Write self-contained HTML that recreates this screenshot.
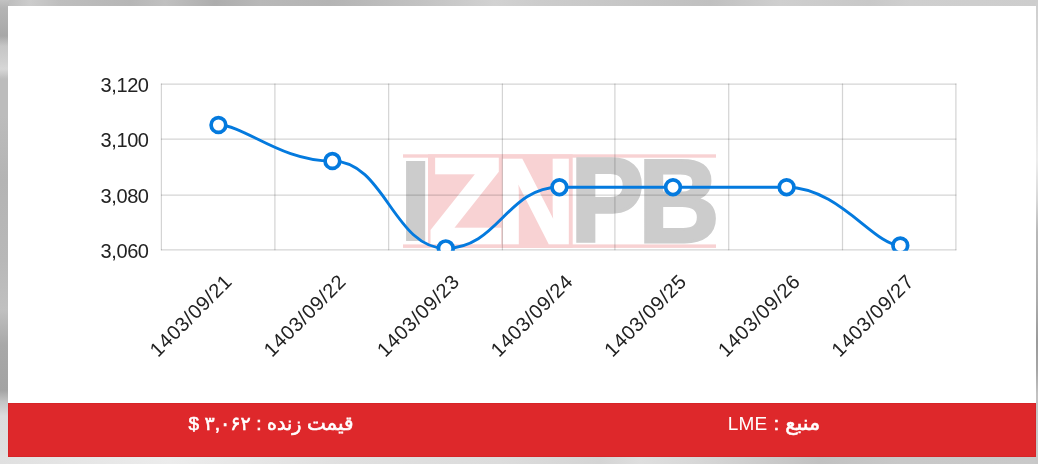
<!DOCTYPE html>
<html lang="fa">
<head>
<meta charset="utf-8">
<title>LME</title>
<style>
html,body{margin:0;padding:0}
body{width:1038px;height:464px;overflow:hidden;position:relative;background:#c4c4c4;font-family:"Liberation Sans","DejaVu Sans",sans-serif}
.bg{position:absolute;left:0;top:0;width:1038px;height:464px;
 background:linear-gradient(90deg,#b8b8b8 0,#cccccc 30px,#bebebe 60px,#b6b6b6 130px,#c0c0c0 165px,#adadad 215px,#b8b8b8 260px,#b4b4b4 330px,#c2c2c2 420px,#d2d2d2 495px,#cccccc 540px,#c8c8c8 600px,#c0c0c0 710px,#cfcfcf 780px,#c8c8c8 870px,#cfcfcf 910px,#cdcdcd 1038px)}
.bgl{position:absolute;left:0;top:0;width:9px;height:464px;
 background:linear-gradient(180deg,#c2c2c2 0,#b4b4b4 8px,#adadad 26px,#a8a8a8 36px,#c6c6c6 46px,#cdcdcd 58px,#d7d7d7 69px,#bcbcbc 79px,#bcbcbc 116px,#b4b4b4 180px,#b8b8b8 260px,#c0c0c0 310px,#a8a8a8 345px,#a3a3a3 390px,#c4c4c4 402px,#dcdcdc 416px,#e0e0e0 464px)}
.bgb{position:absolute;left:0;top:455px;width:1038px;height:9px;
 background:linear-gradient(90deg,#e0e0e0 0,#ececec 170px,#e0e0e0 346px,#dcdcdc 500px,#d4d4d4 600px,#dedede 640px,#d8d8d8 692px,#c1c1c1 820px,#c8c8c8 900px,#c9c9c9 1038px)}
.bgr{position:absolute;left:1035px;top:0;width:3px;height:464px;background:linear-gradient(180deg,#cdcdcd 0,#d6d6d6 40px,#e4e4e4 116px,#eeeeee 160px,#d8d8d8 200px,#b8b8b8 232px,#acacac 300px,#9a9a9a 342px,#a6a6a6 370px,#c2c2c2 394px,#c6c6c6 420px,#c8c8c8 464px)}
.card{position:absolute;left:8px;top:6px;width:1028px;height:451px;background:#fff}
.bar{position:absolute;left:8px;top:403px;width:1028px;height:53.5px;background:#de282b;box-shadow:inset 0 0 0 1px #d62427}
.t{will-change:transform;position:absolute;color:#fff;font-size:19px;line-height:24px;white-space:nowrap;direction:rtl;text-align:center;-webkit-text-stroke:0.6px #fff;font-family:"Liberation Sans","DejaVu Sans",sans-serif}
#t1{left:120.6px;width:300px;top:410.7px;word-spacing:0.3px}
.a1{font-size:19.9px}
.a2{font-size:20.9px}
.l{-webkit-text-stroke:0;letter-spacing:0.2px}
#t2{left:624px;width:300px;top:410.7px;word-spacing:1px}
svg{position:absolute;left:0;top:0;will-change:transform}
svg text{font-family:"Liberation Sans","DejaVu Sans",sans-serif}
</style>
</head>
<body>
<div class="bg"></div><div class="bgl"></div><div class="bgb"></div><div class="bgr"></div>
<div class="card"></div>
<svg width="1038" height="464" viewBox="0 0 1038 464">
<defs><clipPath id="cp"><rect x="160.4" y="75.0" width="796.5" height="175.8"/></clipPath></defs>
<g id="logo" font-family="Liberation Sans">
<rect x="403" y="154.3" width="313" height="3.4" fill="#f8d2d3"/>
<rect x="403" y="244.4" width="313" height="3.5" fill="#f8d2d3"/>
<rect x="428" y="154.3" width="144.7" height="93.6" fill="#f8d2d3"/>
<text transform="translate(399.23,239.60) scale(1.0486,1)" font-size="112.46" font-weight="bold" fill="#cccccc" stroke="#cccccc" stroke-width="2.0" stroke-linejoin="miter">I</text>
<text transform="translate(428.31,242.90) scale(1.0111,1)" font-size="121.74" font-weight="bold" fill="#ffffff" stroke="#ffffff" stroke-width="2.6" stroke-linejoin="miter">Z</text>
<text transform="translate(496.43,243.00) scale(0.8992,1)" font-size="121.01" font-weight="bold" fill="#ffffff" stroke="#ffffff" stroke-width="2.4" stroke-linejoin="miter">N</text>
<text transform="translate(570.54,241.30) scale(0.9282,1)" font-size="118.70" font-weight="bold" fill="#cccccc" stroke="#cccccc" stroke-width="3.4" stroke-linejoin="miter">P</text>
<text transform="translate(638.05,241.60) scale(0.9461,1)" font-size="119.57" font-weight="bold" fill="#cccccc" stroke="#cccccc" stroke-width="2.8" stroke-linejoin="miter">B</text>
</g>
<g stroke="#000" stroke-opacity="0.17" stroke-width="1.25"><line x1="161.40" y1="83.50" x2="161.40" y2="250.30"/><line x1="274.90" y1="83.50" x2="274.90" y2="250.30"/><line x1="388.65" y1="83.50" x2="388.65" y2="250.30"/><line x1="502.40" y1="83.50" x2="502.40" y2="250.30"/><line x1="614.90" y1="83.50" x2="614.90" y2="250.30"/><line x1="728.70" y1="83.50" x2="728.70" y2="250.30"/><line x1="842.50" y1="83.50" x2="842.50" y2="250.30"/><line x1="955.90" y1="83.50" x2="955.90" y2="250.30"/><line x1="160.90" y1="84.00" x2="956.40" y2="84.00"/><line x1="160.90" y1="139.00" x2="956.40" y2="139.00"/><line x1="160.90" y1="195.00" x2="956.40" y2="195.00"/><line x1="160.90" y1="249.80" x2="956.40" y2="249.80"/></g>
<g clip-path="url(#cp)">
<path d="M218.45,125.00 C244.66,125.00 280.11,161.05 332.40,161.05 C384.69,161.05 393.59,248.35 445.80,248.35 C498.01,248.35 507.14,187.20 559.40,187.20 C611.66,187.20 620.74,187.20 673.00,187.20 C725.26,187.20 734.32,187.20 786.60,187.20 C838.88,187.20 874.15,245.50 900.30,245.50" fill="none" stroke="#047ade" stroke-width="2.95" stroke-linecap="round" stroke-linejoin="round"/>
<g fill="#fff" stroke="#047ade" stroke-width="3.7"><circle cx="218.45" cy="125.00" r="7.35"/><circle cx="332.40" cy="161.05" r="7.35"/><circle cx="445.80" cy="248.35" r="7.35"/><circle cx="559.40" cy="187.20" r="7.35"/><circle cx="673.00" cy="187.20" r="7.35"/><circle cx="786.60" cy="187.20" r="7.35"/><circle cx="900.30" cy="245.50" r="7.35"/></g>
</g>
<g font-size="20" fill="#222" style="letter-spacing:-0.4px"><text x="148.6" y="91.70" text-anchor="end">3,120</text><text x="148.6" y="146.70" text-anchor="end">3,100</text><text x="148.6" y="202.70" text-anchor="end">3,080</text><text x="148.6" y="257.50" text-anchor="end">3,060</text></g>
<g font-size="20" fill="#222" style="letter-spacing:0.65px"><text transform="translate(190.65,315.2) rotate(-45)" x="0" y="7.15" text-anchor="middle">1403/09/21</text><text transform="translate(304.60,315.2) rotate(-45)" x="0" y="7.15" text-anchor="middle">1403/09/22</text><text transform="translate(418.00,315.2) rotate(-45)" x="0" y="7.15" text-anchor="middle">1403/09/23</text><text transform="translate(531.60,315.2) rotate(-45)" x="0" y="7.15" text-anchor="middle">1403/09/24</text><text transform="translate(645.20,315.2) rotate(-45)" x="0" y="7.15" text-anchor="middle">1403/09/25</text><text transform="translate(758.80,315.2) rotate(-45)" x="0" y="7.15" text-anchor="middle">1403/09/26</text><text transform="translate(872.50,315.2) rotate(-45)" x="0" y="7.15" text-anchor="middle">1403/09/27</text></g>
</svg>
<div class="bar"></div>
<div class="t" id="t1"><span class="a1">قیمت</span> زنده : ۳,۰۶۲ $</div>
<div class="t" id="t2"><span class="a2">منبع</span> : <span class="l">LME</span></div>
</body>
</html>
